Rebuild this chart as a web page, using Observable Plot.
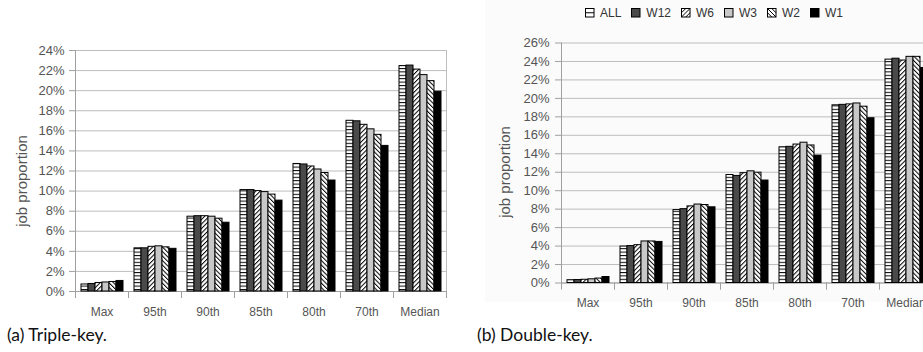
<!DOCTYPE html>
<html><head><meta charset="utf-8">
<script src="https://cdn.jsdelivr.net/npm/d3@7"></script>
<script src="https://cdn.jsdelivr.net/npm/@observablehq/plot@0.6"></script>
<style>
html,body{margin:0;padding:0;}
body{width:923px;height:352px;overflow:hidden;background:#fff;position:relative;font-family:"Liberation Sans",Arial,Helvetica,sans-serif;}
#bg{position:absolute;left:485px;top:0;width:438px;height:302px;background:#fbfbfb;}
#left{position:absolute;left:0;top:0;width:460px;}
#right{position:absolute;left:460px;top:0;width:485px;}
#left svg,#right svg{max-width:none;}
.cap{position:absolute;top:324px;font-family:Lato,"Open Sans",sans-serif;font-size:17.5px;color:#111;white-space:nowrap;}
.ytitle{position:absolute;font-size:15px;color:#555;white-space:nowrap;transform:translate(-50%,-50%) rotate(-90deg);}
#legend{position:absolute;top:6px;left:585px;display:flex;align-items:center;font-size:12px;color:#333;white-space:nowrap;line-height:14px;}
#legend .item{display:flex;align-items:center;margin-right:10px;}
#legend svg{margin-right:5px;}
</style></head>
<body>
<svg width="0" height="0" style="position:absolute">
<defs>
<pattern id="pH" patternUnits="userSpaceOnUse" width="6" height="3.4"><rect width="6" height="3.4" fill="#fff"/><line x1="0" x2="6" y1="0.5" y2="0.5" stroke="#000" stroke-width="1"/></pattern>
<pattern id="pF" patternUnits="userSpaceOnUse" width="3.2" height="6" patternTransform="rotate(45)"><rect width="3.2" height="6" fill="#fff"/><line x1="0.5" x2="0.5" y1="0" y2="6" stroke="#000" stroke-width="1"/></pattern>
<pattern id="pB" patternUnits="userSpaceOnUse" width="3.2" height="6" patternTransform="rotate(-45)"><rect width="3.2" height="6" fill="#fff"/><line x1="0.5" x2="0.5" y1="0" y2="6" stroke="#000" stroke-width="1"/></pattern>
</defs></svg>
<div id="bg"></div>
<div id="left"></div>
<div id="right"></div>
<div class="ytitle" style="left:21px;top:181px;">job proportion</div>
<div class="ytitle" style="left:504px;top:172px;">job proportion</div>
<div id="legend"></div>
<div class="cap" style="left:7px;">(a) Triple-key.</div>
<div class="cap" style="left:477px;">(b) Double-key.</div>
<script>
// ---- data ----
const categories = ["Max", "95th", "90th", "85th", "80th", "70th", "Median"];
const seriesNames = ["ALL", "W12", "W6", "W3", "W2", "W1"];

// (a) Triple-key, percent of jobs
const tripleALL = [0.7, 4.3, 7.45, 10.1, 12.7, 17.0, 22.45];
const tripleW12 = [0.75, 4.3, 7.5, 10.1, 12.65, 16.95, 22.5];
const tripleW6  = [0.85, 4.45, 7.5, 10.0, 12.45, 16.6, 22.1];
const tripleW3  = [0.9, 4.5, 7.45, 9.9, 12.15, 16.15, 21.55];
const tripleW2  = [0.95, 4.4, 7.25, 9.65, 11.8, 15.6, 20.95];
const tripleW1  = [1.05, 4.25, 6.85, 9.05, 11.05, 14.5, 19.9];

// (b) Double-key, percent of jobs
const doubleALL = [0.3, 3.95, 7.9, 11.7, 14.7, 19.25, 24.2];
const doubleW12 = [0.32, 4.0, 8.0, 11.6, 14.75, 19.3, 24.3];
const doubleW6  = [0.35, 4.1, 8.3, 11.9, 15.0, 19.35, 24.1];
const doubleW3  = [0.4, 4.5, 8.5, 12.1, 15.2, 19.45, 24.5];
const doubleW2  = [0.48, 4.5, 8.45, 11.95, 14.9, 19.1, 24.5];
const doubleW1  = [0.65, 4.45, 8.2, 11.1, 13.8, 17.85, 23.3];

const yTicksA = [0, 2, 4, 6, 8, 10, 12, 14, 16, 18, 20, 22, 24];
const yTicksB = [0, 2, 4, 6, 8, 10, 12, 14, 16, 18, 20, 22, 24, 26];

// ---- styles ----
const fills = ["url(#pH)", "#4a4a4a", "url(#pF)", "#c8c8c8", "url(#pB)", "#000"];
const FONT = '"Liberation Sans", Arial, Helvetica, sans-serif';

function rowsOf(cols) {
  return categories.flatMap((c, i) => seriesNames.map((s, j) => ({category: c, series: s, value: cols[j][i]})));
}

function chart(rows, o) {
  const ph = o.height - o.marginTop - o.marginBottom;
  return Plot.plot({
    width: o.width, height: o.height,
    marginLeft: o.marginLeft, marginRight: o.marginRight,
    marginTop: o.marginTop, marginBottom: o.marginBottom,
    style: {background: "transparent", overflow: "visible", fontFamily: FONT, maxWidth: "none"},
    fx: {domain: categories, padding: 0, label: null},
    x: {domain: seriesNames, paddingInner: 0, paddingOuter: 0.45, axis: null},
    y: {domain: o.domain, label: null},
    color: {type: "ordinal", domain: seriesNames, range: fills},
    marks: [
      Plot.gridY({ticks: o.ticks, stroke: "#bdbdbd", strokeOpacity: 1}),
      Plot.ruleY([0], {stroke: "#a0a0a0"}),
      Plot.frame({anchor: "left", facetAnchor: "left", stroke: "#a0a0a0"}),
      Plot.frame({anchor: "right", facetAnchor: "right", stroke: "#bdbdbd"}),
      Plot.frame({anchor: "left", insetTop: ph, insetBottom: -6, stroke: "#a0a0a0"}),
      Plot.frame({anchor: "right", insetTop: ph, insetBottom: -6, stroke: "#a0a0a0"}),
      Plot.barY(rows, {fx: "category", x: "series", y: "value", fill: "series", stroke: "#000", strokeWidth: 1}),
      Plot.axisY({ticks: o.ticks, tickFormat: d => d + "%", tickSize: 6, tickPadding: o.tickPadding, stroke: "#a0a0a0", color: "#555", fontSize: 13, label: null}),
      Plot.axisFx({anchor: "bottom", tickSize: 0, tickPadding: o.fxPad, color: "#555", fontSize: 12, label: null})
    ]
  });
}

const left = chart(rowsOf([tripleALL, tripleW12, tripleW6, tripleW3, tripleW2, tripleW1]), {
  width: 460, height: 331, marginLeft: 73, marginRight: 12, marginTop: 50, marginBottom: 40,
  domain: [0, 24], ticks: yTicksA, tickPadding: 5, fxPad: 16
});
document.getElementById("left").appendChild(left);

const right = chart(rowsOf([doubleALL, doubleW12, doubleW6, doubleW3, doubleW2, doubleW1]), {
  width: 485, height: 323, marginLeft: 99, marginRight: 12, marginTop: 42.5, marginBottom: 40.5,
  domain: [0, 26], ticks: yTicksB, tickPadding: 6, fxPad: 15
});
document.getElementById("right").appendChild(right);

// ---- legend ----
const sw = {
  ALL: '<rect x="0.5" y="0.5" width="8.5" height="8.5" fill="#fff" stroke="#000"/><line x1="0.5" x2="9" y1="4.75" y2="4.75" stroke="#000"/>',
  W12: '<rect x="0.5" y="0.5" width="8.5" height="8.5" fill="#4a4a4a" stroke="#000"/>',
  W6: '<rect x="0.5" y="0.5" width="8.5" height="8.5" fill="#fff" stroke="#000"/><line x1="0.5" y1="9" x2="9" y2="0.5" stroke="#000"/><line x1="0.5" y1="4.75" x2="4.75" y2="0.5" stroke="#000"/><line x1="4.75" y1="9" x2="9" y2="4.75" stroke="#000"/>',
  W3: '<rect x="0.5" y="0.5" width="8.5" height="8.5" fill="#c8c8c8" stroke="#000"/>',
  W2: '<rect x="0.5" y="0.5" width="8.5" height="8.5" fill="#fff" stroke="#000"/><line x1="0.5" y1="0.5" x2="9" y2="9" stroke="#000"/><line x1="0.5" y1="4.75" x2="4.75" y2="9" stroke="#000"/><line x1="4.75" y1="0.5" x2="9" y2="4.75" stroke="#000"/>',
  W1: '<rect x="0.5" y="0.5" width="8.5" height="8.5" fill="#000" stroke="#000"/>'
};
document.getElementById("legend").innerHTML = seriesNames.map(s =>
  `<span class="item"><svg width="10" height="10">${sw[s]}</svg>${s}</span>`).join("");
</script>
</body></html>
